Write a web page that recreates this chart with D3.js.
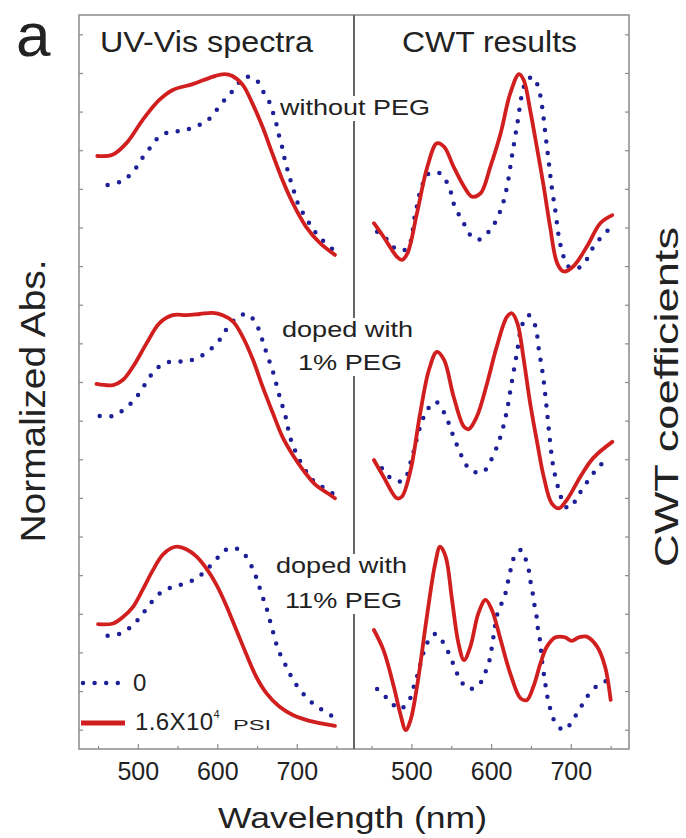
<!DOCTYPE html>
<html>
<head>
<meta charset="utf-8">
<script src="https://cdn.jsdelivr.net/npm/d3@7"></script>
<style>
  body { margin: 0; background: #fff; }
  text { font-family: "Liberation Sans", Arial, sans-serif; fill: #222; }
</style>
</head>
<body>
<div id="chart"></div>
<script>
// [wavelength nm, offset signal]
const uvNoPeg0 = [[462,14.60],[479,14.69],[494,14.94],[504,15.25],[515,15.55],[527,15.85],[542,15.98],[557,16.00],[571,16.11],[586,16.24],[599,16.54],[610,16.82],[622,17.10],[634,17.39],[648,17.34],[657,17.04],[666,16.72],[671,16.41],[675,16.13],[678,15.85],[682,15.55],[685,15.25],[689,14.94],[693,14.66],[698,14.34],[703,14.04],[712,13.74],[721,13.44],[732,13.18],[747,12.90]];
const uvNoPeg16 = [[449,15.35],[468,15.38],[486,15.69],[506,16.28],[527,16.80],[544,17.06],[569,17.21],[594,17.40],[609,17.47],[619,17.42],[632,17.19],[644,16.72],[657,16.10],[669,15.43],[682,14.73],[695,14.13],[712,13.51],[729,13.10],[748,12.79]];
const uvPeg1_0 = [[452,8.62],[468,8.62],[482,8.78],[496,9.05],[506,9.34],[516,9.66],[528,9.92],[542,10.03],[557,10.03],[571,10.09],[586,10.26],[601,10.54],[611,10.85],[624,11.15],[638,11.26],[649,11.00],[655,10.69],[660,10.37],[665,10.07],[670,9.77],[674,9.47],[678,9.16],[682,8.88],[686,8.60],[689,8.30],[693,7.98],[699,7.67],[706,7.38],[714,7.12],[722,6.92],[735,6.75],[748,6.58]];
const uvPeg1_16 = [[448,9.45],[469,9.42],[481,9.55],[494,9.90],[511,10.50],[527,11.02],[544,11.23],[561,11.23],[578,11.26],[594,11.29],[607,11.23],[620,11.06],[632,10.67],[645,10.07],[657,9.38],[670,8.69],[682,8.08],[695,7.61],[708,7.22],[724,6.83],[739,6.62],[748,6.49]];
const uvPeg11_0 = [[462,2.93],[477,2.98],[492,3.17],[504,3.44],[516,3.77],[529,4.05],[543,4.19],[557,4.27],[574,4.42],[587,4.65],[601,4.96],[615,5.20],[630,5.13],[640,4.85],[647,4.55],[652,4.25],[657,3.94],[662,3.64],[666,3.34],[670,3.04],[674,2.74],[680,2.41],[687,2.13],[695,1.80],[705,1.51],[718,1.22],[732,1.01],[747,0.82]];
const uvPeg11_16 = [[450,3.23],[469,3.25],[481,3.41],[494,3.68],[506,4.12],[519,4.63],[531,5.02],[542,5.20],[550,5.24],[561,5.17],[574,4.98],[586,4.68],[599,4.25],[611,3.73],[624,3.08],[636,2.48],[649,1.87],[662,1.44],[678,1.10],[695,0.88],[716,0.73],[748,0.60]];

const cwtNoPeg0 = [[457,13.39],[470,13.18],[482,12.92],[495,12.96],[505,13.87],[513,14.56],[522,14.90],[536,14.90],[547,14.56],[555,14.00],[564,13.69],[572,13.35],[584,13.18],[599,13.44],[612,13.95],[620,14.56],[626,15.33],[633,16.20],[639,16.97],[645,17.32],[653,17.39],[660,17.06],[664,16.63],[668,15.94],[672,15.25],[676,14.56],[681,13.87],[685,13.26],[691,12.74],[697,12.49],[708,12.44],[718,12.61],[726,12.92],[737,13.22],[749,13.48]];
const cwtNoPeg16 = [[453,13.61],[465,13.26],[482,12.74],[488,12.66],[495,12.83],[507,13.87],[520,15.07],[532,15.68],[541,15.59],[553,15.07],[566,14.56],[576,14.30],[587,14.39],[599,15.07],[612,15.94],[624,16.97],[635,17.47],[641,17.31],[649,16.54],[658,15.51],[666,14.56],[674,13.52],[683,12.57],[691,12.36],[703,12.49],[720,13.00],[737,13.61],[752,13.82]];
const cwtPeg1_0 = [[463,7.27],[476,6.98],[490,6.95],[501,7.57],[511,8.34],[520,8.78],[530,8.99],[541,8.71],[553,8.08],[565,7.50],[574,7.22],[589,7.16],[599,7.44],[611,8.04],[619,8.67],[625,9.38],[632,10.20],[639,10.98],[647,11.23],[655,10.98],[660,10.33],[665,9.68],[668,9.16],[671,8.56],[674,7.95],[678,7.31],[685,6.70],[691,6.36],[697,6.23],[706,6.43],[714,6.72],[724,7.01],[735,7.31],[749,7.55]];
const cwtPeg1_16 = [[453,7.48],[465,7.05],[482,6.49],[488,6.53],[499,7.22],[511,8.69],[522,9.81],[532,10.28],[541,10.07],[553,9.12],[566,8.34],[572,8.28],[582,8.60],[595,9.47],[607,10.41],[620,11.19],[626,11.28],[633,11.02],[641,10.07],[649,8.95],[658,7.91],[666,7.05],[676,6.36],[685,6.23],[695,6.45],[712,7.05],[728,7.53],[752,7.95]];
const cwtPeg11_0 = [[457,1.55],[472,1.27],[485,1.03],[497,1.25],[502,1.55],[507,1.87],[520,2.75],[530,2.98],[541,2.72],[554,2.13],[561,1.80],[572,1.55],[586,1.70],[593,2.00],[598,2.30],[603,2.91],[608,3.51],[614,3.81],[619,4.10],[622,4.42],[626,4.76],[630,5.02],[638,5.15],[644,4.87],[648,4.56],[650,4.25],[653,3.94],[655,3.64],[658,3.32],[659,3.04],[662,2.74],[663,2.43],[667,1.83],[672,1.22],[681,0.67],[692,0.49],[703,0.77],[713,1.10],[722,1.40],[735,1.67],[749,1.79]];
const cwtPeg11_16 = [[453,3.08],[465,2.56],[478,1.61],[486,0.92],[493,0.49],[499,0.75],[507,1.61],[520,3.51],[530,4.81],[536,5.24],[543,4.98],[551,3.86],[559,2.74],[566,2.30],[574,2.65],[584,3.51],[593,3.86],[601,3.60],[612,2.82],[624,1.96],[637,1.31],[645,1.27],[653,1.61],[662,2.22],[670,2.65],[681,2.89],[693,2.89],[701,2.80],[710,2.89],[720,2.91],[733,2.65],[743,2.13],[750,1.27]];

const xTicksMajor = [500, 600, 700];
const xTicksMinor = [450, 550, 650, 750];
const yTicks = d3.range(0.5, 19, 1);
const legendLabels = ["0", "1.6X10"];

const width = 686, height = 838;
const frameTop = 15, frameBottom = 749, frameLeft = 79, frameMid = 354, frameRight = 629;
const red = "#d11f1f", blue = "#1c1f96";

const svg = d3.select("#chart").append("svg")
  .attr("width", width).attr("height", height);

const y = d3.scaleLinear().domain([0, 19]).range([frameBottom, frameTop]);
const xL = d3.scaleLinear().domain([426, 772]).range([frameLeft, frameMid]);
const xR = d3.scaleLinear().domain([428, 773]).range([frameMid, frameRight]);

// curves
const drawSeries = (x, data, dotted) => {
  const line = d3.line()
    .x((d) => x(d[0]))
    .y((d) => y(d[1]))
    .curve(d3.curveCatmullRom.alpha(0.5));
  const p = svg.append("path")
    .datum(data)
    .attr("d", line)
    .attr("fill", "none")
    .attr("stroke-linecap", "round")
    .attr("stroke-linejoin", "round");
  if (dotted) {
    p.attr("stroke", blue).attr("stroke-width", 4.5).attr("stroke-dasharray", "0 11.6");
  } else {
    p.attr("stroke", red).attr("stroke-width", 3.8);
  }
};

[uvNoPeg0, uvPeg1_0, uvPeg11_0].forEach((d) => drawSeries(xL, d, true));
[uvNoPeg16, uvPeg1_16, uvPeg11_16].forEach((d) => drawSeries(xL, d, false));
[cwtNoPeg0, cwtPeg1_0, cwtPeg11_0].forEach((d) => drawSeries(xR, d, true));
[cwtNoPeg16, cwtPeg1_16, cwtPeg11_16].forEach((d) => drawSeries(xR, d, false));

// frame and divider
svg.append("rect")
  .attr("x", frameLeft).attr("y", frameTop)
  .attr("width", frameRight - frameLeft).attr("height", frameBottom - frameTop)
  .attr("fill", "none").attr("stroke", "#8a8a8a").attr("stroke-width", 1.5);

svg.append("line")
  .attr("x1", frameMid).attr("x2", frameMid).attr("y1", frameTop).attr("y2", frameBottom)
  .attr("stroke", "#666").attr("stroke-width", 2);

// y ticks (inward, no labels)
const yl = d3.axisRight(y).tickValues(yTicks).tickSize(4).tickFormat("");
const yr = d3.axisLeft(y).tickValues(yTicks).tickSize(4).tickFormat("");
svg.append("g").attr("transform", `translate(${frameLeft},0)`).call(yl);
svg.append("g").attr("transform", `translate(${frameRight},0)`).call(yr);

// x axes
[xL, xR].forEach((x) => {
  svg.append("g").attr("transform", `translate(0,${frameBottom})`)
    .call(d3.axisTop(x).tickValues(xTicksMinor).tickSize(3).tickFormat(""));
  const g = svg.append("g").attr("transform", `translate(0,${frameBottom})`)
    .call(d3.axisTop(x).tickValues(xTicksMajor).tickSize(5).tickFormat(""));
  g.selectAll(".tick").append("text")
    .attr("y", 31)
    .attr("text-anchor", "middle")
    .style("font-size", "25px")
    .text((d) => d);
});
svg.selectAll(".domain").remove();
svg.selectAll(".tick line").attr("stroke", "#8a8a8a").attr("stroke-width", 1.2);

// headers
svg.append("text").attr("x", 16).attr("y", 56)
  .style("font-size", "62px").text("a");
svg.append("text").attr("x", 100).attr("y", 52)
  .attr("textLength", 213).attr("lengthAdjust", "spacingAndGlyphs")
  .style("font-size", "29px").text("UV-Vis spectra");
svg.append("text").attr("x", 402).attr("y", 52)
  .attr("textLength", 175).attr("lengthAdjust", "spacingAndGlyphs")
  .style("font-size", "29px").text("CWT results");

// sample labels with white boxes
const labels = [
  { lines: [["without PEG", 280, 115, 150]] },
  { lines: [["doped with", 282, 337, 131], ["1% PEG", 298, 370, 104]] },
  { lines: [["doped with", 276, 573, 131], ["11% PEG", 285, 608, 117]] },
];
labels.forEach((l) => {
  const g = svg.append("g");
  const bg = g.append("rect").attr("fill", "#fff");
  l.lines.forEach(([t, x0, y0, w]) => {
    g.append("text").attr("x", x0).attr("y", y0)
      .attr("textLength", w).attr("lengthAdjust", "spacingAndGlyphs")
      .style("font-size", "22px").text(t);
  });
  const b = g.node().getBBox();
  bg.attr("x", b.x - 2).attr("y", b.y + 1).attr("width", b.width + 4).attr("height", b.height);
});

// legend
const lg = svg.append("g");
lg.append("line").attr("x1", 83).attr("x2", 118).attr("y1", 683).attr("y2", 683)
  .attr("stroke", blue).attr("stroke-width", 4.5)
  .attr("stroke-linecap", "round").attr("stroke-dasharray", "0 11.6");
lg.append("line").attr("x1", 81).attr("x2", 125).attr("y1", 723).attr("y2", 723)
  .attr("stroke", red).attr("stroke-width", 5);
lg.append("text").attr("x", 133).attr("y", 691)
  .style("font-size", "24px").text(legendLabels[0]);
const lt = lg.append("text").attr("x", 135).attr("y", 730).style("font-size", "24px");
lt.append("tspan").attr("textLength", 78).text(legendLabels[1]);
lt.append("tspan").attr("dy", -12).style("font-size", "11px").text("4");
lt.append("tspan").attr("x", 233).attr("y", 730)
  .attr("textLength", 38).attr("lengthAdjust", "spacingAndGlyphs")
  .style("font-size", "15px").text("PSI");

// axis titles
svg.append("text").attr("x", 218).attr("y", 828)
  .attr("textLength", 269).attr("lengthAdjust", "spacingAndGlyphs")
  .style("font-size", "29px").text("Wavelength (nm)");
svg.append("text")
  .attr("transform", "translate(45,401) rotate(-90)")
  .attr("text-anchor", "middle")
  .attr("textLength", 283).attr("lengthAdjust", "spacingAndGlyphs")
  .style("font-size", "35px").text("Normalized Abs.");
svg.append("text")
  .attr("transform", "translate(678,397) rotate(-90)")
  .attr("text-anchor", "middle")
  .attr("textLength", 340).attr("lengthAdjust", "spacingAndGlyphs")
  .style("font-size", "33px").text("CWT coefficients");
</script>
</body>
</html>
